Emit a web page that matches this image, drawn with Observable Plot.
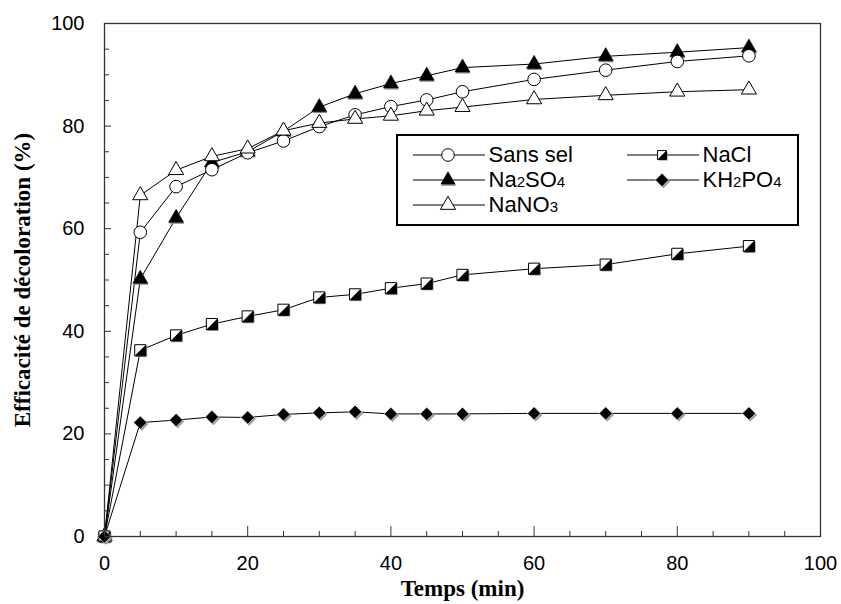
<!DOCTYPE html>
<html><head><meta charset="utf-8">
<script src="https://cdn.jsdelivr.net/npm/d3@7"></script>
<script src="https://cdn.jsdelivr.net/npm/@observablehq/plot@0.6"></script>
<style>
body{margin:0;background:#fff;}
#wrap{position:relative;width:841px;height:604px;}
#legend{position:absolute;left:396px;top:134px;width:399px;height:88px;border:2.5px solid #000;background:#fff;font-family:"Liberation Sans",Arial,sans-serif;font-size:22px;color:#000;}
.item{position:absolute;display:flex;align-items:center;height:26px;white-space:nowrap;}
.item svg{margin-right:4px;display:block}
.sub{font-size:15px}
</style></head><body><div id="wrap"></div>
<script>
// ---- data ----
const time    = [0, 5, 10, 15, 20, 25, 30, 35, 40, 45, 50, 60, 70, 80, 90];
const sansSel = [0, 59.3, 68.2, 71.5, 74.8, 77.1, 79.9, 82.2, 83.8, 85.1, 86.7, 89.1, 90.9, 92.6, 93.7];
const na2so4  = [0, 50.2, 62.1, 72.9, 75.0, 79.0, 83.7, 86.3, 88.3, 89.8, 91.4, 92.1, 93.6, 94.4, 95.3];
const nano3   = [0, 66.5, 71.4, 74.1, 75.6, 79.1, 80.6, 81.4, 82.0, 83.0, 83.7, 85.2, 86.0, 86.7, 87.1];
const nacl    = [0, 36.3, 39.2, 41.4, 42.9, 44.2, 46.6, 47.2, 48.4, 49.3, 51.0, 52.2, 53.0, 55.1, 56.6];
const kh2po4  = [0, 22.2, 22.7, 23.3, 23.2, 23.8, 24.1, 24.3, 23.9, 23.9, 23.9, 24.0, 24.0, 24.0, 24.0];
const seriesNames  = ["Sans sel", "NaCl", "Na2SO4", "KH2PO4", "NaNO3"];
const seriesLabels = ["Sans sel", "NaCl", "Na<span class=sub>2</span>SO<span class=sub>4</span>", "KH<span class=sub>2</span>PO<span class=sub>4</span>", "NaNO<span class=sub>3</span>"];
const xMajor = [0, 20, 40, 60, 80, 100];
const xMinor = d3.range(5, 100, 5).filter(v => v % 20 !== 0);
const yMajor = [0, 20, 40, 60, 80, 100];
const yMinor = d3.range(5, 100, 5).filter(v => v % 20 !== 0);
const xTitle = "Temps (min)";
const yTitle = "Efficacité de décoloration (%)";

const valuesByName = {"Sans sel": sansSel, "NaCl": nacl, "Na2SO4": na2so4, "KH2PO4": kh2po4, "NaNO3": nano3};
const rows = name => time.map((t, i) => ({t, v: valuesByName[name][i]}));

// custom symbol: lower-right half of a square
const halfSquare = {draw(ctx, size) {const s = Math.sqrt(size) / 2; ctx.moveTo(s, -s); ctx.lineTo(s, s); ctx.lineTo(-s, s); ctx.closePath();}};

const order = ["Na2SO4", "Sans sel", "NaNO3", "NaCl", "KH2PO4"];
const markerMarks = {
  "Sans sel": d => [Plot.dot(d, {x: "t", y: "v", r: 6.3, symbol: "circle", fill: "#fff", stroke: "#000", strokeWidth: 1})],
  "Na2SO4": d => [
    Plot.dot(d, {x: "t", y: "v", r: 5.6, symbol: "triangle", fill: "#888", dx: 0.5, dy: 1.5}),
    Plot.dot(d, {x: "t", y: "v", r: 5.6, symbol: "triangle", fill: "#000", stroke: "#000", strokeWidth: 0.5})],
  "NaNO3": d => [Plot.dot(d, {x: "t", y: "v", r: 5.6, symbol: "triangle", fill: "#fff", stroke: "#000", strokeWidth: 1})],
  "NaCl": d => [
    Plot.dot(d, {x: "t", y: "v", r: 6.3, symbol: "square", fill: "#999", dx: 1.2, dy: 1.2}),
    Plot.dot(d, {x: "t", y: "v", r: 6.3, symbol: "square", fill: "#fff", stroke: "#000", strokeWidth: 1}),
    Plot.dot(d, {x: "t", y: "v", r: 6.3, symbol: halfSquare, fill: "#000"})],
  "KH2PO4": d => [
    Plot.dot(d, {x: "t", y: "v", r: 6, symbol: "diamond2", fill: "#999", dx: 1.5, dy: 1.5}),
    Plot.dot(d, {x: "t", y: "v", r: 6, symbol: "diamond2", fill: "#000", stroke: "#fff", strokeWidth: 0.6})]
};

const marks = [];
for (const n of order) marks.push(Plot.line(rows(n), {x: "t", y: "v", stroke: "#000", strokeWidth: 1}));
for (const n of order) marks.push(...markerMarks[n](rows(n)));

const serif = "'Liberation Serif', 'Times New Roman', serif";
const chart = Plot.plot({
  width: 841, height: 604,
  marginLeft: 104, marginRight: 21, marginTop: 23, marginBottom: 68,
  style: {fontFamily: "'Liberation Sans', Arial, sans-serif", fontSize: "20px", color: "#000", background: "#fff"},
  x: {domain: [0, 100], axis: null},
  y: {domain: [0, 100], axis: null},
  marks: [
    Plot.axisX(xMinor, {tickSize: -5, tickFormat: () => "", label: null, stroke: "#333"}),
    Plot.axisX(xMajor, {tickSize: -10, tickFormat: () => "", label: null, stroke: "#333"}),
    Plot.axisX(xMajor, {tickSize: 0, tickPadding: 19, label: null, fill: "#000"}),
    Plot.axisY(yMinor, {tickSize: -5, tickFormat: () => "", label: null, stroke: "#333"}),
    Plot.axisY(yMajor, {tickSize: -7, tickFormat: () => "", label: null, stroke: "#333"}),
    Plot.axisY(yMajor, {tickSize: 0, tickPadding: 20, label: null, fill: "#000"}),
    ...marks,
    Plot.frame({stroke: "#333", strokeWidth: 1.3}),
    Plot.text([xTitle], {frameAnchor: "bottom", textAnchor: "middle", dy: 59, fontFamily: serif, fontWeight: "bold", fontSize: 23, fill: "#000"}),
    Plot.text([yTitle], {frameAnchor: "left", textAnchor: "middle", dx: -82, rotate: -90, fontFamily: serif, fontWeight: "bold", fontSize: 23, fill: "#000"})
  ]
});
const wrap = document.getElementById("wrap");
wrap.appendChild(chart);

// ---- legend ----
const legend = document.createElement("div");
legend.id = "legend";
wrap.appendChild(legend);
const sym = {
  "Sans sel": () => `<circle cx="35" cy="13" r="6.3" fill="#fff" stroke="#000"/>`,
  "Na2SO4": () => { const p = d3.symbol(d3.symbolTriangle, Math.PI * 5.6 * 5.6)(); return `<path transform="translate(35.5,14.5)" d="${p}" fill="#888"/><path transform="translate(35,13)" d="${p}" fill="#000"/>`; },
  "NaNO3": () => { const p = d3.symbol(d3.symbolTriangle, Math.PI * 5.6 * 5.6)(); return `<path transform="translate(35,13)" d="${p}" fill="#fff" stroke="#000"/>`; },
  "NaCl": () => { const p = d3.symbol(d3.symbolSquare, Math.PI * 5 * 5)(); const h = d3.symbol(halfSquare, Math.PI * 5 * 5)(); return `<path transform="translate(36.2,14.2)" d="${p}" fill="#999"/><path transform="translate(35,13)" d="${p}" fill="#fff" stroke="#000"/><path transform="translate(35,13)" d="${h}" fill="#000"/>`; },
  "KH2PO4": () => { const p = d3.symbol(d3.symbolDiamond2, Math.PI * 6 * 6)(); return `<path transform="translate(36.5,14.5)" d="${p}" fill="#999"/><path transform="translate(35,13)" d="${p}" fill="#000" stroke="#fff" stroke-width="0.6"/>`; }
};
const pos = {"Sans sel": [14.5, 5.5], "Na2SO4": [14.5, 31], "NaNO3": [14.5, 56], "NaCl": [228.5, 5.5], "KH2PO4": [228.5, 31]};
seriesNames.forEach((n, i) => {
  const it = document.createElement("div");
  it.className = "item";
  it.style.left = pos[n][0] + "px";
  it.style.top = pos[n][1] + "px";
  it.innerHTML = `<svg width="72" height="26"><line x1="0" x2="72" y1="13" y2="13" stroke="#000" stroke-width="1"/>${sym[n]()}</svg><span>${seriesLabels[i]}</span>`;
  legend.appendChild(it);
});
</script>
</body></html>
